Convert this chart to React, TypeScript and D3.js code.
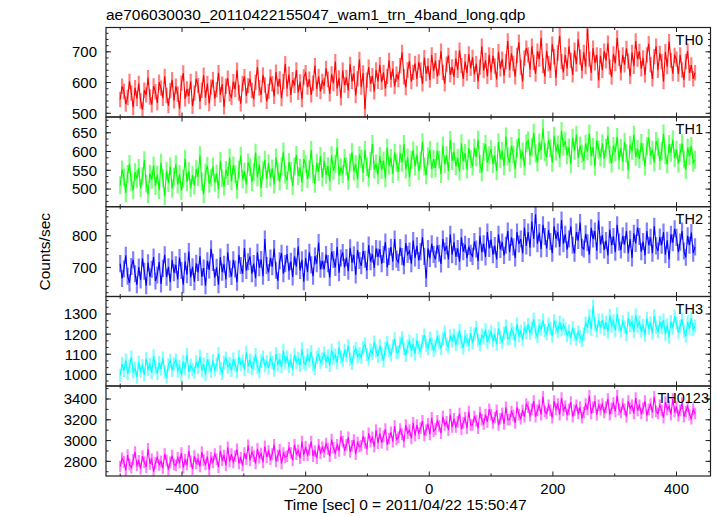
import React from 'react';
import * as d3 from 'd3';

const title = "ae706030030_20110422155047_wam1_trn_4band_long.qdp";
const xLabel = "Time [sec] 0 = 2011/04/22 15:50:47";
const yLabel = "Counts/sec";
const bandNames = ["TH0", "TH1", "TH2", "TH3", "TH0123"];

const timeStart = -500;
const timeStep = 3;

const th0 = [
  545, 588, 571, 530, 552, 604, 566, 519, 583, 548,
  597, 540, 512, 575, 560, 616, 553, 528, 589, 570,
  534, 601, 582, 549, 620, 558, 525, 574, 609, 541,
  588, 562, 515, 598, 631, 547, 579, 556, 604, 523,
  566, 612, 590, 538, 575, 624, 551, 597, 532, 585,
  609, 548, 577, 632, 560, 595, 521, 588, 614, 563,
  552, 603, 578, 640, 566, 531, 597, 619, 557, 590,
  612, 574, 546, 601, 650, 583, 560, 625, 592, 539,
  571, 618, 596, 555, 634, 587, 612, 548, 603, 661,
  580, 627, 560, 609, 591, 641, 568, 602, 545, 618,
  632, 585, 611, 560, 598, 655, 579, 620, 571, 604,
  589, 646, 610, 563, 628, 597, 668, 581, 615, 550,
  640, 592, 617, 574, 659, 603, 630, 558, 612, 675,
  585, 631, 513, 608, 650, 596, 622, 570, 641, 604,
  658, 601, 633, 580, 620, 672, 609, 645, 587, 627,
  610, 655, 698, 619, 584, 641, 670, 603, 633, 662,
  612, 667, 640, 596, 681, 629, 654, 608, 690, 637,
  671, 620, 648, 702, 633, 596, 660, 688, 625, 651,
  618, 679, 640, 705, 655, 612, 668, 631, 693, 646,
  682, 627, 661, 604, 650, 718, 639, 672, 620, 690,
  633, 687, 654, 610, 700, 645, 676, 622, 668, 735,
  641, 695, 662, 619, 688, 731, 650, 604, 680, 712,
  690, 642, 718, 665, 628, 702, 676, 745, 655, 620,
  703, 661, 640, 725, 684, 615, 697, 752, 668, 633,
  690, 646, 718, 672, 625, 705, 660, 741, 683, 638,
  698, 652, 775, 676, 631, 712, 664, 690, 607, 687,
  640, 702, 671, 728, 650, 618, 693, 662, 745, 679,
  632, 690, 658, 711, 670, 620, 698, 653, 735, 676,
  701, 645, 680, 625, 690, 726, 658, 612, 684, 718,
  640, 695, 668, 603, 700, 652, 733, 672, 629, 688,
  676, 628, 690, 641, 609, 668, 702, 631, 657, 612,
  632,
];
const th1 = [
  510, 552, 531, 489, 540, 567, 518, 497, 545, 528,
  556, 502, 534, 577, 515, 486, 541, 525, 563, 508,
  538, 497, 570, 529, 481, 549, 516, 560, 501, 533,
  566, 512, 540, 495, 528, 581, 519, 548, 503, 537,
  509, 553, 532, 590, 520, 486, 544, 562, 514, 530,
  560, 517, 541, 499, 575, 529, 507, 551, 535, 584,
  521, 563, 540, 498, 552, 589, 526, 547, 512, 571,
  558, 519, 546, 597, 531, 565, 503, 550, 578, 527,
  569, 530, 555, 512, 584, 546, 520, 561, 600, 538,
  523, 572, 549, 508, 560, 591, 535, 557, 517, 580,
  566, 527, 553, 604, 540, 514, 570, 546, 588, 531,
  575, 538, 561, 520, 590, 549, 567, 611, 536, 558,
  540, 583, 560, 522, 571, 598, 547, 566, 526, 590,
  581, 543, 604, 559, 530, 575, 620, 552, 568, 537,
  588, 551, 576, 529, 610, 562, 583, 540, 597, 570,
  546, 595, 571, 620, 552, 584, 531, 578, 603, 560,
  592, 548, 576, 625, 560, 537, 587, 604, 553, 580,
  556, 601, 579, 540, 616, 566, 590, 548, 631, 575,
  600, 561, 583, 547, 622, 575, 596, 552, 609, 580,
  560, 610, 585, 632, 567, 545, 599, 620, 571, 590,
  606, 566, 590, 548, 625, 580, 602, 561, 640, 587,
  570, 615, 592, 553, 608, 636, 581, 600, 560, 622,
  630, 588, 612, 650, 595, 571, 624, 603, 662, 598,
  585, 631, 609, 570, 642, 600, 619, 582, 655, 613,
  628, 590, 611, 566, 637, 602, 645, 583, 616, 594,
  575, 621, 600, 648, 587, 612, 560, 630, 605, 584,
  622, 581, 610, 643, 592, 568, 615, 598, 639, 577,
  610, 573, 626, 595, 551, 618, 602, 645, 586, 607,
  580, 623, 598, 560, 614, 637, 589, 605, 571, 628,
  612, 575, 601, 648, 590, 566, 620, 597, 632, 583,
  605, 568, 597, 622, 579, 551, 610, 588, 615, 570,
  578,
];
const th2 = [
  712, 665, 695, 738, 672, 651, 703, 724, 680, 645,
  701, 660, 729, 688, 642, 715, 670, 694, 733, 657,
  676, 718, 648, 697, 740, 669, 702, 653, 724, 683,
  708, 662, 731, 690, 645, 719, 677, 750, 668, 702,
  655, 713, 684, 736, 670, 698, 642, 721, 692, 759,
  716, 668, 700, 645, 733, 685, 710, 662, 748, 695,
  671, 724, 695, 653, 740, 706, 680, 761, 690, 718,
  735, 680, 712, 666, 748, 699, 725, 672, 790, 706,
  684, 730, 702, 760, 691, 658, 721, 745, 680, 712,
  742, 688, 719, 670, 735, 702, 766, 690, 724, 655,
  730, 685, 748, 708, 672, 736, 712, 779, 694, 721,
  694, 741, 712, 668, 750, 725, 700, 765, 683, 730,
  747, 700, 731, 688, 762, 715, 740, 676, 755, 722,
  705, 752, 726, 690, 771, 718, 742, 698, 760, 733,
  758, 712, 741, 780, 700, 735, 764, 718, 790, 726,
  716, 763, 734, 705, 777, 741, 752, 712, 785, 730,
  768, 722, 750, 795, 735, 665, 760, 728, 775, 741,
  726, 770, 745, 711, 790, 752, 768, 725, 805, 740,
  780, 734, 760, 718, 795, 750, 773, 729, 766, 745,
  735, 782, 758, 720, 800, 748, 775, 733, 812, 760,
  788, 740, 769, 725, 805, 757, 780, 738, 770, 815,
  748, 795, 765, 730, 812, 774, 790, 744, 826, 768,
  812, 762, 845, 790, 868, 775, 810, 758, 835, 798,
  760, 818, 782, 745, 830, 790, 812, 765, 850, 775,
  805, 756, 790, 830, 770, 745, 812, 785, 842, 764,
  758, 806, 778, 740, 825, 790, 815, 752, 848, 772,
  802, 755, 785, 738, 820, 770, 798, 748, 835, 780,
  755, 800, 772, 815, 745, 790, 730, 808, 776, 826,
  798, 750, 782, 738, 815, 770, 795, 745, 830, 768,
  752, 796, 770, 812, 740, 786, 725, 805, 778, 822,
  795, 748, 780, 815, 752, 732, 800, 770, 810, 745,
  765,
];
const th3 = [
  995, 1052, 1018, 1070, 1003, 1040, 1085, 1012, 1031, 986,
  1060, 1015, 1043, 997, 1078, 1025, 1050, 1008, 1092, 1033,
  1005, 1058, 1027, 1081, 1012, 990, 1047, 1069, 1020, 1052,
  1072, 1018, 1040, 996, 1063, 1029, 1098, 1011, 1045, 1024,
  1010, 1062, 1035, 1089, 1020, 1051, 998, 1074, 1042, 1015,
  1068, 1022, 1049, 1103, 1030, 1005, 1060, 1081, 1037, 1055,
  1020, 1075, 1046, 1012, 1088, 1050, 1066, 1023, 1109, 1040,
  1071, 1030, 1055, 1098, 1036, 1014, 1066, 1085, 1043, 1062,
  1032, 1080, 1058, 1021, 1102, 1050, 1072, 1037, 1118, 1061,
  1085, 1040, 1068, 1025, 1097, 1060, 1079, 1045, 1126, 1058,
  1048, 1095, 1067, 1112, 1050, 1030, 1084, 1101, 1060, 1077,
  1105, 1063, 1090, 1045, 1120, 1078, 1096, 1058, 1133, 1085,
  1070, 1118, 1092, 1143, 1075, 1055, 1110, 1128, 1088, 1102,
  1085, 1132, 1150, 1098, 1076, 1121, 1104, 1160, 1117, 1090,
  1143, 1101, 1068, 1130, 1158, 1115, 1097, 1140, 1176, 1109,
  1112, 1155, 1181, 1126, 1094, 1139, 1165, 1118, 1150, 1102,
  1170, 1133, 1116, 1162, 1195, 1145, 1128, 1180, 1152, 1120,
  1140, 1186, 1162, 1128, 1175, 1210, 1150, 1135, 1192, 1166,
  1195, 1150, 1176, 1218, 1160, 1132, 1188, 1170, 1148, 1205,
  1155, 1200, 1234, 1170, 1148, 1195, 1181, 1222, 1160, 1190,
  1212, 1168, 1196, 1150, 1228, 1185, 1160, 1205, 1240, 1176,
  1180, 1224, 1205, 1166, 1250, 1192, 1215, 1173, 1230, 1208,
  1248, 1205, 1230, 1275, 1210, 1188, 1242, 1225, 1268, 1218,
  1202, 1250, 1228, 1190, 1266, 1235, 1212, 1260, 1222, 1245,
  1225, 1195, 1215, 1180, 1232, 1198, 1175, 1210, 1188, 1168,
  1200, 1255, 1236, 1290, 1225, 1338, 1250, 1215, 1270, 1232,
  1270, 1225, 1258, 1210, 1292, 1240, 1265, 1218, 1300, 1245,
  1215, 1262, 1235, 1198, 1280, 1242, 1260, 1212, 1295, 1238,
  1260, 1215, 1242, 1195, 1278, 1230, 1255, 1205, 1290, 1235,
  1212, 1258, 1232, 1270, 1200, 1245, 1185, 1262, 1230, 1288,
  1255, 1210, 1240, 1275, 1215, 1190, 1260, 1228, 1280, 1222,
  1240,
];
const th0123 = [
  2750, 2830, 2795, 2712, 2860, 2770, 2740, 2815, 2890, 2760,
  2805, 2730, 2850, 2790, 2745, 2920, 2775, 2820, 2700, 2785,
  2840, 2765, 2800, 2735, 2870, 2810, 2720, 2790, 2855, 2770,
  2760, 2835, 2790, 2880, 2740, 2815, 2770, 2900, 2800, 2725,
  2850, 2780, 2820, 2750, 2890, 2810, 2770, 2845, 2720, 2835,
  2790, 2870, 2820, 2745, 2900, 2810, 2855, 2760, 2935, 2800,
  2870, 2790, 2850, 2915, 2780, 2835, 2760, 2880, 2820, 2955,
  2810, 2890, 2850, 2780, 2920, 2835, 2875, 2790, 2945, 2840,
  2900, 2820, 2870, 2960, 2800, 2855, 2910, 2780, 2880, 2840,
  2850, 2930, 2880, 2810, 2960, 2870, 2905, 2830, 2990, 2860,
  2940, 2860, 2910, 2990, 2850, 2900, 2830, 2960, 2880, 2935,
  2890, 2970, 2920, 2850, 3010, 2930, 2880, 2960, 2900, 3040,
  2990, 2910, 2960, 3030, 2890, 2950, 3005, 2870, 2980, 2940,
  2950, 3040, 2980, 2920, 3070, 2990, 3030, 2940, 3100, 2975,
  3070, 2980, 3040, 3110, 2960, 3020, 3080, 2990, 3140, 3010,
  3030, 3110, 3060, 2990, 3150, 3070, 3100, 3020, 3170, 3050,
  3150, 3070, 3120, 3190, 3050, 3100, 3160, 3060, 3220, 3090,
  3110, 3190, 3140, 3070, 3230, 3150, 3180, 3100, 3250, 3130,
  3210, 3130, 3180, 3260, 3110, 3170, 3220, 3120, 3280, 3150,
  3150, 3230, 3190, 3120, 3270, 3200, 3160, 3250, 3180, 3300,
  3250, 3170, 3220, 3290, 3150, 3210, 3260, 3160, 3320, 3200,
  3200, 3280, 3240, 3170, 3320, 3250, 3210, 3290, 3230, 3350,
  3320, 3240, 3300, 3380, 3230, 3290, 3340, 3250, 3420, 3280,
  3260, 3340, 3290, 3220, 3380, 3300, 3350, 3250, 3410, 3290,
  3330, 3250, 3300, 3370, 3230, 3290, 3340, 3260, 3320, 3220,
  3270, 3350, 3300, 3430, 3260, 3320, 3380, 3250, 3340, 3300,
  3350, 3270, 3320, 3400, 3250, 3310, 3360, 3280, 3430, 3300,
  3270, 3350, 3300, 3230, 3380, 3310, 3340, 3260, 3410, 3290,
  3340, 3260, 3310, 3380, 3240, 3300, 3350, 3270, 3420, 3280,
  3260, 3340, 3290, 3220, 3370, 3300, 3330, 3250, 3400, 3280,
  3320, 3240, 3290, 3360, 3230, 3280, 3330, 3250, 3210, 3300,
  3260,
];
const bandSeries = [th0, th1, th2, th3, th0123];
const bandErrors = [25, 24, 27, 33, 56];

const yDomains: [number, number][] = [[488, 779], [453, 692], [608, 892], [942, 1387], [2659, 3525]];
const yMajorTicks = [[500, 600, 700], [500, 550, 600, 650], [700, 800], [1000, 1100, 1200, 1300], [2800, 3000, 3200, 3400]];
const yMinorSteps = [20, 50 / 3, 20, 100 / 3, 100];
const xDomain: [number, number] = [-523, 455];
const xMajorTicks = [-400, -200, 0, 200, 400];
const xMinorTicks = [-500, -300, -100, 100, 300];

// layout
const W = 717, H = 516;
const LEFT = 106, RIGHT = 710.5;
const panelEdges = [27.5, 117, 206.7, 296.5, 386, 476];
const colors = ["#ff0000", "#00ff00", "#0000ff", "#00ffff", "#ff00ff"];
const labelRight = [703, 703, 703, 703, 709];
const FONT = "'Liberation Sans', Arial, Helvetica, sans-serif";
const AX = "#222";

export default function App() {
  const x = d3.scaleLinear().domain(xDomain).range([LEFT, RIGHT]);
  const times = bandSeries[0].map((_, i) => timeStart + i * timeStep);

  return (
    <svg width={W} height={H} style={{ position: 'absolute', left: 0, top: 0, background: '#fff' }}
      fontFamily={FONT}>
      <defs>
        {bandNames.map((n, k) => (
          <clipPath id={`clip${k}`} key={n}>
            <rect x={LEFT} y={panelEdges[k]} width={RIGHT - LEFT} height={panelEdges[k + 1] - panelEdges[k]} />
          </clipPath>
        ))}
      </defs>
      <text x={LEFT} y={20} fontSize={15.5} fill="#000">{title}</text>
      {bandNames.map((name, k) => {
        const top = panelEdges[k], bot = panelEdges[k + 1];
        const y = d3.scaleLinear().domain(yDomains[k]).range([bot, top]);
        const vals = bandSeries[k];
        const err = bandErrors[k];
        const line = d3.line<number>().x((_, i) => x(times[i])).y(v => y(v));
        const ebar = vals.map((v, i) => `M${x(times[i]).toFixed(2)},${y(v - err).toFixed(2)}V${y(v + err).toFixed(2)}`).join('');
        const [d0, d1] = yDomains[k];
        const step = yMinorSteps[k];
        const minor: number[] = [];
        const base = yMajorTicks[k][0];
        for (let t = base - Math.floor((base - d0) / step) * step; t <= d1 + 1e-6; t += step) minor.push(t);
        return (
          <g key={name}>
            <g clipPath={`url(#clip${k})`}>
              <path d={ebar} stroke={colors[k]} strokeOpacity={0.5} strokeWidth={2.2} fill="none" />
              <path d={line(vals) || ''} stroke={colors[k]} strokeWidth={1.1} fill="none" />
            </g>
            <rect x={LEFT} y={top} width={RIGHT - LEFT} height={bot - top} fill="none" stroke={AX} strokeWidth={1.2} />
            {minor.map((t, i) => (
              <g key={'m' + i} stroke={AX} strokeWidth={1}>
                <line x1={LEFT} x2={LEFT + 2.5} y1={y(t)} y2={y(t)} />
                <line x1={RIGHT} x2={RIGHT - 2.5} y1={y(t)} y2={y(t)} />
              </g>
            ))}
            {yMajorTicks[k].map(t => (
              <g key={'M' + t}>
                <line x1={LEFT} x2={LEFT + 5} y1={y(t)} y2={y(t)} stroke={AX} strokeWidth={1} />
                <line x1={RIGHT} x2={RIGHT - 5} y1={y(t)} y2={y(t)} stroke={AX} strokeWidth={1} />
                <text x={97} y={y(t)} dy="0.36em" textAnchor="end" fontSize={15} fill="#000">{t}</text>
              </g>
            ))}
            {xMajorTicks.map(t => (
              <g key={'xM' + t} stroke={AX} strokeWidth={1}>
                <line x1={x(t)} x2={x(t)} y1={top} y2={top + 4.5} />
                <line x1={x(t)} x2={x(t)} y1={bot} y2={bot - 4.5} />
              </g>
            ))}
            {xMinorTicks.map(t => (
              <g key={'xm' + t} stroke={AX} strokeWidth={1}>
                <line x1={x(t)} x2={x(t)} y1={top} y2={top + 2.5} />
                <line x1={x(t)} x2={x(t)} y1={bot} y2={bot - 2.5} />
              </g>
            ))}
            <text x={labelRight[k]} y={top + 17} textAnchor="end" fontSize={14.5} fill="#000">{name}</text>
          </g>
        );
      })}
      {xMajorTicks.map(t => (
        <text key={'xl' + t} x={x(t)} y={494} textAnchor="middle" fontSize={15} fill="#000">
          {t < 0 ? `\u2212${-t}` : `${t}`}
        </text>
      ))}
      <text x={(LEFT + RIGHT) / 2 - 3} y={510} textAnchor="middle" fontSize={15.5} fill="#000">{xLabel}</text>
      <text transform={`translate(50,${(panelEdges[0] + panelEdges[5]) / 2}) rotate(-90)`} textAnchor="middle" fontSize={15.5} fill="#000">{yLabel}</text>
    </svg>
  );
}
